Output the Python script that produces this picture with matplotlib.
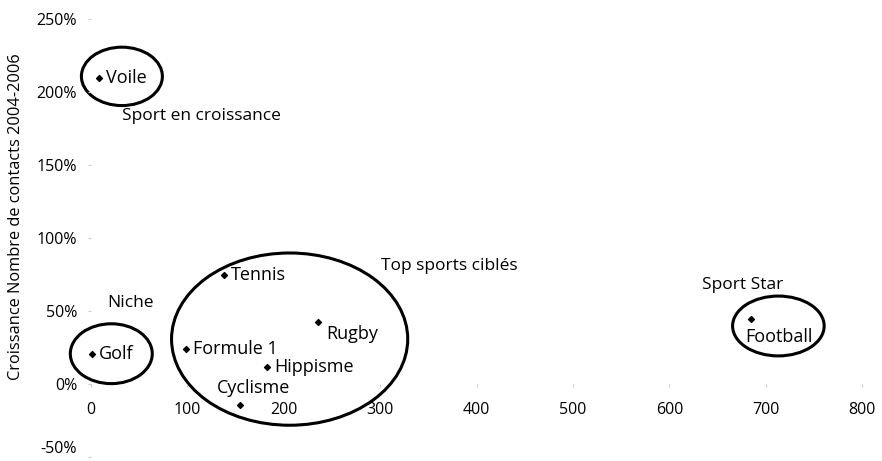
import matplotlib.pyplot as plt
from matplotlib.patches import Ellipse

sports = ['Voile', 'Golf', 'Tennis', 'Formule 1', 'Rugby', 'Hippisme', 'Cyclisme', 'Football']
contacts = [8, 1, 138, 98, 235, 183, 155, 685]
croissance = [210, 21, 75, 24, 43, 12, -14, 45]

x_ticks = [0, 100, 200, 300, 400, 500, 600, 700, 800]
y_ticks = [-50, 0, 50, 100, 150, 200, 250]

groups = ['Sport en croissance', 'Niche', 'Top sports ciblés', 'Sport Star']

# label offsets in pixels (dx, dy)
offsets = {
    'Voile': (7, 0), 'Golf': (7, 0), 'Tennis': (7, 0),
    'Formule 1': (7, 0), 'Rugby': (9, -12), 'Hippisme': (7, 0),
    'Cyclisme': (-24, 17), 'Football': (-6, -18),
}

plt.rcParams['font.family'] = ['Open Sans', 'DejaVu Sans']

fig = plt.figure(figsize=(8.82, 4.61), dpi=100)
ax = fig.add_axes([0.0923, 0.0, 0.9017, 0.98])
ax.set_xlim(-10, 815)
ax.set_ylim(-52.5, 257)

ax.scatter(contacts, croissance, marker='D', s=9, color='black', zorder=3)
for name, x, y in zip(sports, contacts, croissance):
    dx, dy = offsets[name]
    ax.annotate(name, (x, y), xytext=(dx, dy), textcoords='offset pixels',
                ha='left', va='center', fontsize=13)

# ellipses (center x, center y, width, height)
for cx, cy, w, h in [(32, 211, 84, 40), (21, 21, 85, 41),
                     (206, 31, 245, 118), (713, 40, 95, 41)]:
    ax.add_patch(Ellipse((cx, cy), w, h, fill=False, edgecolor='black',
                         lw=2.2, clip_on=False))

for text, (gx, gy) in zip(groups, [(32, 184), (17, 56), (301, 81), (634, 68)]):
    ax.text(gx, gy, text, fontsize=12.5, ha='left', va='center')

for s in ['top', 'right', 'left', 'bottom']:
    ax.spines[s].set_visible(False)
ax.spines['left'].set_position(('data', 0))
ax.spines['bottom'].set_position(('data', 0))

ax.set_xticks(x_ticks, labels=[str(v) for v in x_ticks])
ax.set_yticks(y_ticks, labels=[f'{v}%' for v in y_ticks])
ax.tick_params(axis='x', length=2, color='#cccccc', pad=11, labelsize=11.5)
ax.tick_params(axis='y', length=2, color='#cccccc', pad=8, labelsize=11.5)
# keep the lowest label inside the figure
ax.get_yticklabels()[0].set_va('bottom')

fig.text(0.018, 0.531, 'Croissance Nombre de contacts 2004-2006', rotation=90,
         ha='center', va='center', fontsize=11.8)

plt.savefig('out.png', dpi=100)
